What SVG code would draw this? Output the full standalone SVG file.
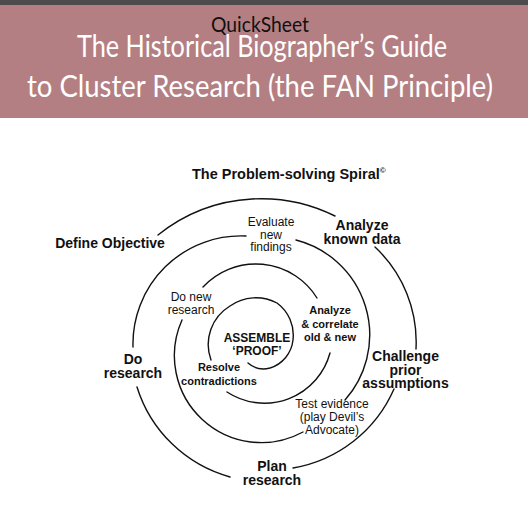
<svg xmlns="http://www.w3.org/2000/svg" width="528" height="524" viewBox="0 0 528 524">
<style>
.bar{fill:#4d4b4c}
.band{fill:#b37f83}
.hdr{font-family:Lato,"Open Sans","Liberation Sans",sans-serif;text-anchor:middle}
.big{font-family:"Liberation Sans",Arial,sans-serif;font-weight:bold;font-size:14px;fill:#111;text-anchor:middle}
.med{font-family:"Liberation Sans",Arial,sans-serif;font-weight:bold;font-size:11px;fill:#111;text-anchor:middle}
.cen{font-family:"Liberation Sans",Arial,sans-serif;font-weight:bold;font-size:12px;fill:#111;text-anchor:middle}
.reg{font-family:"Liberation Sans",Arial,sans-serif;font-size:12px;fill:#111;text-anchor:middle}
.sp{fill:none;stroke:#111;stroke-width:1.4;stroke-linecap:round}
</style>
<rect width="528" height="524" fill="#fff"/>
<g id="header">
<rect class="band" x="0" y="0" width="528" height="118"/>
<rect class="bar" x="0" y="0" width="528" height="5"/>
<text class="hdr" x="260" y="32" font-size="22" fill="#111" textLength="98" lengthAdjust="spacingAndGlyphs">QuickSheet</text>
<text class="hdr" x="262" y="57" font-size="30" fill="#fff" textLength="370" lengthAdjust="spacingAndGlyphs">The Historical Biographer’s Guide</text>
<text class="hdr" x="260" y="97" font-size="30" fill="#fff" textLength="466" lengthAdjust="spacingAndGlyphs">to Cluster Research (the FAN Principle)</text>
</g>
<g id="title">
<text x="192" y="179" font-family="Liberation Sans, Arial, sans-serif" font-weight="bold" font-size="14.5" fill="#111">The Problem-solving Spiral<tspan font-size="8" dy="-6">©</tspan></text>
</g>
<g id="connectors">
<path class="sp" d="M158,235 A165,165 0 0 1 252,199 A165,165 0 0 1 335,216"/>
<path class="sp" d="M375,247 A130,130 0 0 1 416,349"/>
<path class="sp" d="M394,389 A135,135 0 0 1 293,468"/>
<path class="sp" d="M230,477 A135,135 0 0 1 137,387"/>
<path class="sp" d="M133,347 A108,108 0 0 1 246,236"/>
<path class="sp" d="M296,240 A98,98 0 0 1 345,400"/>
<path class="sp" d="M303,432 A87,87 0 0 1 182,320"/>
<path class="sp" d="M203,287 A72,72 0 0 1 317,298"/>
<path class="sp" d="M330,353 A68,68 0 0 1 227,392"/>
<path class="sp" d="M211,360 A45,45 0 0 1 230,306 A45,45 0 0 1 277,303 A40,40 0 0 1 293,340 A33,33 0 0 1 270,368 A24,24 0 0 1 248,363"/>
</g>
<g id="define-objective"><text class="big" x="110" y="248">Define Objective</text></g>
<g id="analyze-known-data"><text class="big" x="362" y="230">Analyze</text><text class="big" x="362" y="244">known data</text></g>
<g id="challenge"><text class="big" x="405.5" y="361">Challenge</text><text class="big" x="405.5" y="374.5">prior</text><text class="big" x="405.5" y="388">assumptions</text></g>
<g id="plan-research"><text class="big" x="272" y="471">Plan</text><text class="big" x="272" y="484.5">research</text></g>
<g id="do-research"><text class="big" x="133" y="363.5">Do</text><text class="big" x="133" y="377.5">research</text></g>
<g id="evaluate"><text class="reg" x="271" y="226">Evaluate</text><text class="reg" x="271" y="238.5">new</text><text class="reg" x="271" y="250.5">findings</text></g>
<g id="do-new-research"><text class="reg" x="191" y="300.5">Do new</text><text class="reg" x="191" y="314">research</text></g>
<g id="analyze-correlate"><text class="med" x="330" y="313.5">Analyze</text><text class="med" x="330" y="327.5">&amp; correlate</text><text class="med" x="330" y="341">old &amp; new</text></g>
<g id="assemble-proof"><text class="cen" x="257" y="341.5">ASSEMBLE</text><text class="cen" x="257" y="355">‘PROOF’</text></g>
<g id="resolve"><text class="med" x="219" y="371">Resolve</text><text class="med" x="219" y="384.5">contradictions</text></g>
<g id="test-evidence"><text class="reg" x="332" y="407.5">Test evidence</text><text class="reg" x="332" y="421">(play Devil’s</text><text class="reg" x="332" y="434">Advocate)</text></g>
</svg>
